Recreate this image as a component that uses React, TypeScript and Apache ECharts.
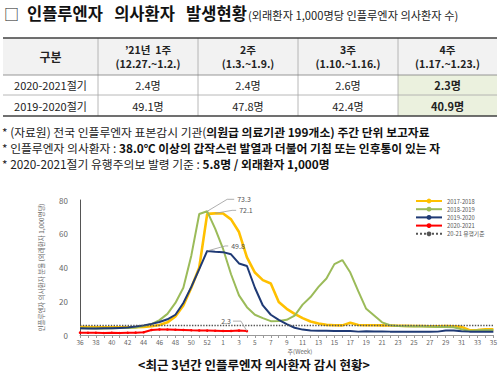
import React, { useEffect, useRef } from 'react';
import * as echarts from 'echarts';

const FONT = "'Noto Sans CJK KR', 'Noto Sans', sans-serif";

// ---------- Data ----------
const weekLabels = [
  '36', '37', '38', '39', '40', '41', '42', '43', '44', '45', '46', '47', '48', '49', '50', '51', '52', '53',
  '1', '2', '3', '4', '5', '6', '7', '8', '9', '10', '11', '12', '13', '14', '15', '16', '17', '18', '19', '20',
  '21', '22', '23', '24', '25', '26', '27', '28', '29', '30', '31', '32', '33', '34', '35',
];

const season1718 = [
  4.7, 4.7, 4.6, 4.6, 4.5, 4.5, 4.5, 4.6, 4.8,
  5.2, 5.9, 7.5, 11.0, 17.5, 28.0, 40.0, 71.8, 72.1,
  72.0, 68.5, 61.0, 46.0, 37.0, 32.5, 30.5, 19.5, 15.5,
  12.5, 10.0, 8.0, 6.8, 6.0, 5.8, 5.7, 7.2, 5.9,
  5.8, 5.8, 5.7, 5.6, 5.5, 5.4, 5.3, 5.3, 5.2,
  5.2, 5.3, 5.2, 4.8, 2.8, 3.0, 3.4, 3.4,
];

const season1819 = [
  4.0, 4.0, 3.9, 3.9, 4.0, 4.1, 4.2, 4.5, 5.3,
  6.5, 8.8, 12.5, 19.0, 28.0, 47.0, 71.7, 73.3, 63.0,
  51.0, 36.0, 23.5, 16.5, 12.0, 10.0, 8.2, 8.3, 9.0,
  11.5, 18.0, 22.5, 28.5, 33.5, 42.0, 44.4, 37.0, 26.0,
  15.5, 11.5, 7.5, 5.8, 5.4, 5.2, 5.0, 5.0, 4.9,
  4.8, 4.8, 4.6, 3.4, 2.4, 2.8, 3.0, 3.0,
];

const season1920 = [
  4.0, 3.9, 3.9, 4.0, 4.0, 4.2, 4.4, 5.0, 5.7,
  6.6, 7.7, 9.3, 12.0, 19.0, 28.5, 39.0, 49.8, 49.4,
  49.1, 47.8, 42.4, 40.9, 28.0, 17.5, 12.0, 9.0, 6.5,
  4.3, 3.2, 2.7, 2.5, 2.5, 2.4, 2.3, 2.3, 2.0,
  2.2, 2.1, 2.1, 2.0, 2.0, 2.0, 1.9, 1.9, 1.9,
  2.0, 2.7, 2.6, 2.2, 2.0, 2.0, 2.0, 2.0,
];

const season2021 = [
  1.4, 1.3, 1.3, 1.2, 1.3, 1.2, 1.3, 1.4, 1.6,
  3.0, 3.3, 3.2, 3.1, 3.0, 2.8, 2.7, 2.6, 2.5,
  2.4, 2.4, 2.6, 2.3,
];

const epidemicThreshold = 5.8;

const seriesNames = ['2017-2018', '2018-2019', '2019-2020', '2020-2021', '20-21 유행기준'];

// table
const tableHeaders = ['구분', '’21년  1주\n(12.27.~1.2.)', '2주\n(1.3.~1.9.)', '3주\n(1.10.~1.16.)', '4주\n(1.17.~1.23.)'];
const rowLabels = ['2020-2021절기', '2019-2020절기'];
const row2021 = [2.4, 2.4, 2.6, 2.3];
const row1920 = [49.1, 47.8, 42.4, 40.9];

// annotation points: [seriesIndex, weekIndex]
const annotations = [
  { s: 1, i: 16, elbow: [20, -12], end: [27, -12], textAt: [30, -12], align: 'left' },
  { s: 0, i: 17, elbow: [17, -3], end: [21, -3], textAt: [24, -3], align: 'left' },
  { s: 2, i: 16, elbow: [18, -5], end: [21, -5], textAt: [24, -5], align: 'left' },
  { s: 3, i: 21, elbow: [-6, -10], end: [-14, -10], textAt: [-16, -10], align: 'right' },
];

export default function App() {
  const ref = useRef<HTMLDivElement>(null);

  useEffect(() => {
    const chart = echarts.init(ref.current!, null, { renderer: 'svg' });
    const seriesData = [season1718, season1819, season1920, season2021];
    const colors = ['#FFC000', '#9BBB59', '#1F3A75', '#FF0000'];

    const option: any = {
      animation: false,
      backgroundColor: '#ffffff',
      textStyle: { fontFamily: FONT },
      grid: { left: 80, right: 5, top: 200, bottom: 39, containLabel: false },
      legend: {
        orient: 'vertical',
        left: 410,
        top: 193,
        itemWidth: 26,
        itemHeight: 6,
        itemGap: 2.2,
        data: seriesNames,
        textStyle: { fontSize: 5.8, color: '#555', lineHeight: 6, fontFamily: FONT },
      },
      xAxis: {
        type: 'category',
        data: weekLabels,
        boundaryGap: false,
        axisLine: { lineStyle: { color: '#9a9a9a', width: 1 } },
        axisTick: { show: true, interval: 0, length: 3, lineStyle: { color: '#9a9a9a' } },
        axisLabel: { interval: 1, fontSize: 6.5, color: '#666', margin: 4, fontFamily: FONT },
        splitLine: { show: false },
      },
      yAxis: {
        type: 'value',
        min: 0,
        max: 80,
        interval: 20,
        name: '인플루엔자 의사환자 분율 (외래환자 1,000명당)',
        nameLocation: 'middle',
        nameRotate: 90,
        nameGap: 36,
        nameTextStyle: { fontSize: 6.5, color: '#666', fontFamily: FONT },
        axisLine: { show: true, lineStyle: { color: '#555', width: 1 } },
        axisTick: { show: false },
        axisLabel: { fontSize: 8, color: '#666', margin: 12, fontFamily: FONT },
        splitLine: { show: false },
      },
      series: [
        ...seriesData.map((d, k) => ({
          name: seriesNames[k],
          type: 'line',
          data: d,
          symbol: k === 3 ? 'circle' : 'none',
          symbolSize: 2.5,
          showSymbol: k === 3,
          itemStyle: { color: colors[k] },
          lineStyle: { color: colors[k], width: k === 0 ? 2.6 : 2 },
          z: k === 3 ? 5 : 3,
        })),
        {
          name: seriesNames[4],
          type: 'line',
          data: [],
          symbol: 'none',
          itemStyle: { color: '#555' },
          lineStyle: { color: '#555', width: 1.4, type: 'dotted' },
          markLine: {
            silent: true,
            symbol: 'none',
            label: { show: false },
            lineStyle: { color: '#555', width: 1.4, type: 'dotted' },
            data: [{ yAxis: epidemicThreshold }],
          },
        },
      ],
    };
    chart.setOption(option);

    const graphics: any[] = [];
    // title
    graphics.push({ type: 'text', x: 4, y: 13, style: { text: '□', fontSize: 15, fill: '#222', fontFamily: FONT, verticalAlign: 'middle' } });
    graphics.push({ type: 'text', x: 27, y: 13, style: { text: '인플루엔자   의사환자   발생현황', fontSize: 16.5, fontWeight: 'bold', fill: '#111', fontFamily: FONT, verticalAlign: 'middle' } });
    graphics.push({ type: 'text', x: 248, y: 15, style: { text: '(외래환자 1,000명당 인플루엔자 의사환자 수)', fontSize: 11.2, fill: '#222', fontFamily: FONT, verticalAlign: 'middle' } });

    // table
    const colX = [3, 98, 198, 298, 398, 497];
    const rowY = [38, 75, 95, 116];
    graphics.push({ type: 'rect', shape: { x: colX[0], y: rowY[0], width: colX[5] - colX[0], height: rowY[1] - rowY[0] }, style: { fill: '#f2f2f2' } });
    graphics.push({ type: 'rect', shape: { x: colX[4], y: rowY[1], width: colX[5] - colX[4], height: rowY[3] - rowY[1] }, style: { fill: '#ebf1de' } });
    for (let c = 1; c <= 4; c++) {
      graphics.push({ type: 'line', shape: { x1: colX[c], y1: rowY[0], x2: colX[c], y2: rowY[3] }, style: { stroke: '#a6a6a6', lineWidth: 0.8 } });
    }
    graphics.push({ type: 'line', shape: { x1: colX[0], y1: rowY[0], x2: colX[5], y2: rowY[0] }, style: { stroke: '#404040', lineWidth: 1.3 } });
    graphics.push({ type: 'line', shape: { x1: colX[0], y1: rowY[1], x2: colX[5], y2: rowY[1] }, style: { stroke: '#7f7f7f', lineWidth: 0.8 } });
    graphics.push({ type: 'line', shape: { x1: colX[0], y1: rowY[2], x2: colX[5], y2: rowY[2] }, style: { stroke: '#a6a6a6', lineWidth: 0.8 } });
    graphics.push({ type: 'line', shape: { x1: colX[0], y1: rowY[3], x2: colX[5], y2: rowY[3] }, style: { stroke: '#404040', lineWidth: 1.3 } });

    tableHeaders.forEach((h, c) => {
      graphics.push({
        type: 'text',
        x: (colX[c] + colX[c + 1]) / 2,
        y: (rowY[0] + rowY[1]) / 2,
        style: { text: h, fontSize: c === 0 ? 12 : 10.5, fontWeight: 'bold', fill: '#222', align: 'center', verticalAlign: 'middle', lineHeight: 14.5, fontFamily: FONT },
      });
    });
    const rows = [row2021, row1920];
    rows.forEach((vals, r) => {
      const cy = (rowY[r + 1] + rowY[r + 2]) / 2;
      graphics.push({ type: 'text', x: (colX[0] + colX[1]) / 2, y: cy, style: { text: rowLabels[r], fontSize: 11, fill: '#222', align: 'center', verticalAlign: 'middle', fontFamily: FONT } });
      vals.forEach((v, c) => {
        graphics.push({
          type: 'text',
          x: (colX[c + 1] + colX[c + 2]) / 2,
          y: cy,
          style: { text: v.toFixed(1) + '명', fontSize: 11, fontWeight: c === 3 ? 'bold' : 'normal', fill: '#222', align: 'center', verticalAlign: 'middle', fontFamily: FONT },
        });
      });
    });

    // notes
    const rich = {
      n: { fontSize: 11.8, fill: '#222', fontFamily: FONT },
      b: { fontSize: 11.8, fill: '#111', fontWeight: 'bold', fontFamily: FONT },
    };
    const notes = [
      '{n|* (자료원) 전국 인플루엔자 표본감시 기관(}{b|의원급 의료기관 199개소) 주간 단위 보고자료}',
      '{n|* 인플루엔자 의사환자 : }{b|38.0℃ 이상의 갑작스런 발열과 더불어 기침 또는 인후통이 있는 자}',
      '{n|* 2020-2021절기 유행주의보 발령 기준 : }{b|5.8명 / 외래환자 1,000명}',
    ];
    notes.forEach((t, k) => {
      graphics.push({ type: 'text', x: 2, y: 131.5 + k * 16, style: { text: t, rich, verticalAlign: 'middle', fontFamily: FONT } });
    });

    // x axis name
    graphics.push({ type: 'text', x: 300, y: 351.5, style: { text: '주(Week)', fontSize: 6, fill: '#666', align: 'center', verticalAlign: 'middle', fontFamily: FONT } });

    // caption
    graphics.push({ type: 'text', x: 254, y: 364, style: { text: '<최근 3년간 인플루엔자 의사환자 감시 현황>', fontSize: 12.5, fontWeight: 'bold', fill: '#111', align: 'center', verticalAlign: 'middle', fontFamily: FONT } });

    // annotations
    annotations.forEach((a) => {
      const v = seriesData[a.s][a.i];
      const p = chart.convertToPixel({ xAxisIndex: 0, yAxisIndex: 0 }, [a.i, v]) as number[];
      const pts = [
        [p[0], p[1]],
        [p[0] + a.elbow[0], p[1] + a.elbow[1]],
        [p[0] + a.end[0], p[1] + a.end[1]],
      ];
      graphics.push({ type: 'polyline', shape: { points: pts }, style: { stroke: '#9a9a9a', lineWidth: 0.8, fill: null }, z: 10 });
      graphics.push({
        type: 'text',
        x: p[0] + a.textAt[0],
        y: p[1] + a.textAt[1],
        z: 10,
        style: { text: v.toFixed(1), fontSize: 7, fill: '#555', align: a.align, verticalAlign: 'middle', fontFamily: FONT },
      });
    });

    chart.setOption({ graphic: graphics });

    return () => chart.dispose();
  }, []);

  return <div ref={ref} style={{ position: 'absolute', left: 0, top: 0, width: 500, height: 374, background: '#fff' }} />;
}
